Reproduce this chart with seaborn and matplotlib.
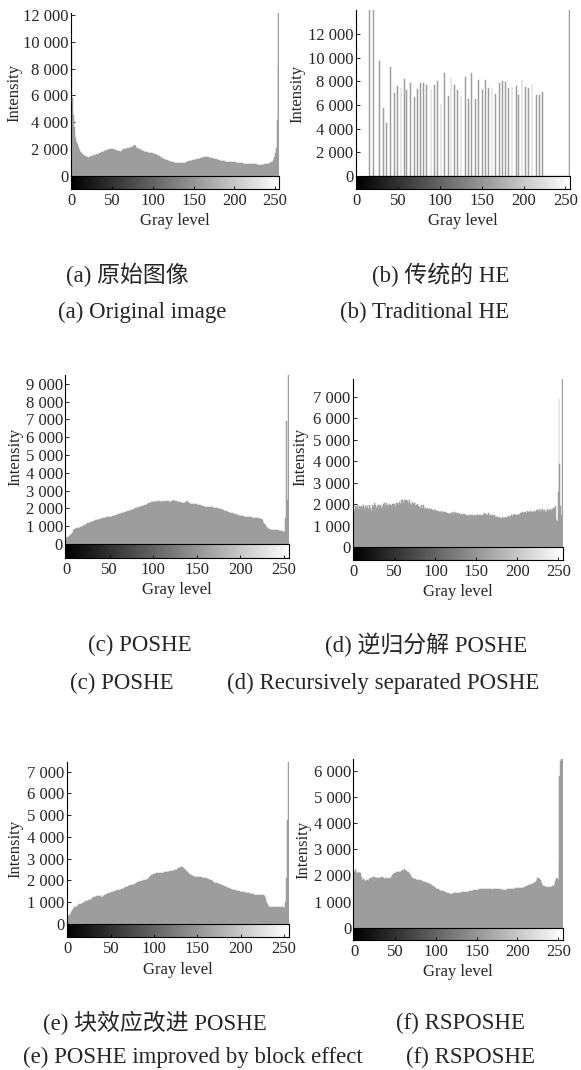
import numpy as np
import pandas as pd
import matplotlib
matplotlib.use("Agg")
import matplotlib.pyplot as plt
import seaborn as sns

sns.set_theme(style="white")
plt.rcParams["font.family"] = ["Liberation Serif", "Noto Sans CJK SC", "DejaVu Sans"]

# ---------------- data ----------------
gray_levels = list(range(256))

hist_original = [
    9700, 5800, 4500, 3600, 3100, 2800, 2550, 2350, 2150, 2000, 1900, 1800, 1700, 1650, 1600, 1550,
    1500, 1450, 1400, 1380, 1400, 1350, 1400, 1450, 1420, 1500, 1480, 1520, 1500, 1550, 1560, 1600,
    1580, 1650, 1680, 1700, 1720, 1750, 1780, 1800, 1820, 1850, 1880, 1900, 1920, 1950, 1980, 2000,
    2000, 2020, 2000, 1980, 1960, 1940, 1920, 1900, 1880, 1860, 1840, 1820, 1800, 1850, 1900, 1920,
    1960, 2000, 2000, 2020, 2040, 2050, 2050, 2080, 2100, 2120, 2150, 2150, 2200, 2280, 2300, 2250,
    2080, 2050, 2000, 1980, 1950, 1920, 1900, 1880, 1850, 1820, 1800, 1790, 1760, 1740, 1720, 1700,
    1690, 1680, 1670, 1660, 1650, 1640, 1620, 1600, 1580, 1550, 1520, 1480, 1440, 1400, 1360, 1330,
    1300, 1260, 1230, 1200, 1180, 1160, 1140, 1120, 1100, 1080, 1060, 1040, 1020, 1000, 990, 980,
    960, 940, 920, 920, 910, 920, 920, 920, 930, 940, 950, 960, 970, 1000, 1030, 1060,
    1080, 1100, 1110, 1130, 1140, 1160, 1170, 1180, 1200, 1210, 1230, 1240, 1260, 1280, 1300, 1320,
    1340, 1350, 1370, 1380, 1400, 1400, 1390, 1380, 1360, 1350, 1340, 1320, 1300, 1290, 1280, 1270,
    1250, 1230, 1210, 1190, 1170, 1160, 1140, 1130, 1110, 1100, 1090, 1080, 1070, 1060, 1050, 1050,
    1050, 1050, 1050, 1050, 1040, 1030, 1020, 1010, 1000, 990, 990, 980, 980, 970, 960, 950,
    940, 930, 920, 910, 900, 890, 880, 870, 870, 860, 860, 850, 850, 850, 850, 850,
    850, 850, 840, 840, 830, 830, 820, 820, 820, 820, 820, 820, 830, 840, 850, 860,
    870, 890, 910, 930, 950, 970, 1000, 1050, 1200, 1300, 1400, 1700, 2050, 4150, 8100, 12500,
]

he_levels = [15, 20, 27, 32, 36, 40, 45, 49, 53, 57, 60, 64, 69, 73, 76, 80, 84, 89, 93, 97,
             101, 105, 110, 113, 117, 121, 125, 130, 134, 138, 142, 146, 151, 154, 158, 162,
             166, 171, 175, 178, 182, 186, 191, 194, 198, 202, 206, 210, 215, 219, 223, 255]
he_counts = [22000, 22000, 9700, 5700, 4500, 9200, 7050, 7600, 7400, 8200, 7300, 7850, 6700,
             7350, 7850, 7850, 7700, 7350, 7650, 8000, 6100, 8700, 6800, 8280, 7700, 7300, 6800,
             8330, 6500, 8730, 6500, 8080, 7230, 8100, 7460, 7400, 6950, 7900, 8000, 7940, 7400,
             7490, 7570, 6840, 8080, 7490, 7400, 7770, 6840, 6840, 7060, 15000]

hist_poshe = [
    280, 320, 380, 410, 460, 500, 580, 640, 700, 780, 840, 860, 880, 890, 900, 920,
    940, 950, 970, 990, 1010, 1040, 1070, 1100, 1130, 1160, 1180, 1200, 1220, 1240, 1260, 1280,
    1300, 1310, 1330, 1350, 1360, 1370, 1380, 1390, 1400, 1420, 1440, 1450, 1470, 1480, 1490, 1500,
    1510, 1520, 1520, 1530, 1540, 1550, 1560, 1580, 1600, 1620, 1640, 1650, 1670, 1690, 1710, 1730,
    1740, 1760, 1770, 1790, 1800, 1810, 1820, 1840, 1860, 1880, 1890, 1910, 1930, 1950, 1970, 1990,
    2000, 2020, 2040, 2060, 2080, 2100, 2110, 2130, 2150, 2160, 2180, 2200, 2220, 2240, 2260, 2290,
    2300, 2320, 2340, 2360, 2380, 2400, 2380, 2360, 2390, 2380, 2420, 2400, 2360, 2390, 2380, 2400,
    2420, 2380, 2440, 2440, 2400, 2420, 2390, 2370, 2380, 2410, 2430, 2460, 2440, 2440, 2420, 2400,
    2380, 2370, 2380, 2340, 2320, 2300, 2290, 2290, 2320, 2350, 2380, 2400, 2380, 2330, 2280, 2260,
    2250, 2250, 2240, 2230, 2230, 2230, 2230, 2220, 2200, 2180, 2170, 2160, 2140, 2120, 2110, 2100,
    2100, 2100, 2100, 2100, 2100, 2100, 2090, 2070, 2060, 2050, 2040, 2030, 2020, 2010, 2000, 1990,
    1980, 1960, 1950, 1930, 1910, 1890, 1870, 1860, 1840, 1820, 1800, 1780, 1770, 1750, 1730, 1720,
    1700, 1690, 1680, 1670, 1650, 1630, 1620, 1600, 1590, 1580, 1570, 1560, 1550, 1540, 1530, 1520,
    1510, 1500, 1500, 1500, 1490, 1490, 1480, 1480, 1470, 1460, 1450, 1450, 1440, 1440, 1430, 1420,
    1380, 1350, 1300, 1200, 1100, 1050, 980, 900, 850, 820, 800, 790, 790, 790, 790, 790,
    790, 780, 780, 770, 760, 750, 740, 730, 720, 710, 700, 700, 1450, 6900, 2450, 9700,
]

hist_recursive = [
    2120, 1730, 1900, 1850, 1950, 1970, 1800, 1900, 1880, 1750, 1920, 1860, 1950, 1800, 1900, 1970,
    1850, 1900, 1780, 1950, 1890, 1820, 1700, 1950, 1880, 2040, 1900, 1960, 1820, 1900, 1970, 2000,
    1880, 1950, 1850, 1920, 1990, 1800, 2050, 1900, 2040, 1950, 1880, 1920, 2000, 1970, 1900, 2020,
    1940, 2010, 2010, 1880, 2050, 2000, 2040, 1950, 2100, 2000, 2200, 2150, 2200, 2050, 2180, 2200,
    2100, 2200, 2150, 2050, 2180, 2000, 2040, 1950, 2100, 2000, 2080, 2120, 1900, 1980, 2000, 1900,
    1890, 1920, 1800, 1950, 1850, 1970, 1880, 1800, 1850, 1780, 1810, 1750, 1820, 1760, 1780, 1760,
    1720, 1750, 1700, 1740, 1730, 1680, 1700, 1650, 1690, 1660, 1620, 1680, 1660, 1600, 1660, 1620,
    1640, 1580, 1610, 1610, 1570, 1600, 1560, 1590, 1580, 1620, 1560, 1640, 1600, 1660, 1580, 1550,
    1600, 1540, 1580, 1520, 1550, 1500, 1530, 1530, 1480, 1520, 1500, 1470, 1500, 1510, 1460, 1500,
    1480, 1500, 1460, 1520, 1500, 1450, 1500, 1480, 1530, 1470, 1500, 1500, 1450, 1520, 1560, 1500,
    1580, 1540, 1500, 1560, 1520, 1580, 1480, 1520, 1460, 1500, 1500, 1450, 1480, 1420, 1460, 1420,
    1400, 1380, 1420, 1350, 1350, 1330, 1400, 1360, 1380, 1420, 1390, 1350, 1420, 1450, 1420, 1380,
    1450, 1500, 1460, 1500, 1480, 1550, 1500, 1520, 1500, 1560, 1540, 1500, 1580, 1580, 1620, 1560,
    1600, 1640, 1660, 1600, 1680, 1620, 1660, 1660, 1700, 1620, 1680, 1650, 1660, 1700, 1640, 1720,
    1680, 1730, 1700, 1760, 1650, 1730, 1730, 1800, 1680, 1750, 1660, 1720, 1640, 1780, 1700, 1750,
    1730, 1800, 1700, 1780, 1820, 1810, 1750, 1920, 1270, 1200, 2550, 6900, 3850, 1900, 1500, 7900,
]

hist_block = [
    340, 380, 410, 480, 550, 610, 660, 710, 770, 790, 800, 830, 860, 880, 900, 920,
    940, 960, 980, 1000, 1030, 1040, 1060, 1080, 1090, 1100, 1120, 1150, 1180, 1200, 1230, 1250,
    1260, 1270, 1280, 1290, 1290, 1280, 1270, 1260, 1260, 1280, 1300, 1330, 1350, 1380, 1400, 1410,
    1420, 1430, 1440, 1460, 1480, 1490, 1500, 1520, 1530, 1540, 1550, 1560, 1560, 1580, 1600, 1620,
    1630, 1640, 1660, 1680, 1700, 1720, 1750, 1760, 1770, 1780, 1790, 1790, 1800, 1830, 1860, 1880,
    1900, 1920, 1930, 1940, 1960, 1970, 1980, 1990, 2000, 2010, 2020, 2040, 2060, 2090, 2120, 2170,
    2200, 2230, 2260, 2280, 2300, 2320, 2340, 2350, 2360, 2360, 2350, 2340, 2340, 2330, 2330, 2350,
    2370, 2380, 2390, 2400, 2400, 2410, 2420, 2420, 2430, 2440, 2450, 2460, 2470, 2480, 2500, 2530,
    2560, 2580, 2600, 2610, 2620, 2630, 2580, 2510, 2460, 2420, 2390, 2360, 2330, 2300, 2270, 2240,
    2220, 2200, 2190, 2180, 2170, 2170, 2170, 2160, 2150, 2150, 2140, 2140, 2130, 2120, 2110, 2100,
    2100, 2090, 2070, 2050, 2040, 2020, 2000, 1980, 1950, 1930, 1900, 1890, 1880, 1870, 1860, 1840,
    1830, 1810, 1790, 1770, 1750, 1740, 1720, 1700, 1690, 1670, 1650, 1640, 1620, 1610, 1590, 1580,
    1570, 1560, 1540, 1530, 1520, 1510, 1500, 1500, 1490, 1480, 1470, 1460, 1450, 1440, 1430, 1420,
    1420, 1410, 1410, 1400, 1390, 1380, 1370, 1360, 1350, 1340, 1340, 1330, 1330, 1330, 1330, 1330,
    1330, 1330, 1320, 1310, 1290, 1200, 1000, 900, 820, 800, 800, 800, 790, 780, 780, 770,
    770, 770, 770, 770, 770, 770, 780, 790, 800, 780, 720, 750, 1000, 2100, 4800, 7500,
]

hist_rsposhe = [
    2150, 2200, 2300, 2080, 2100, 2150, 2100, 2050, 2080, 1950, 1830, 1850, 1820, 1840, 1800, 1830,
    1820, 1800, 1850, 1880, 1890, 1900, 1920, 1950, 1930, 1930, 1900, 1920, 1900, 1880, 1890, 1900,
    1920, 1930, 1900, 1930, 1890, 1880, 1900, 1890, 1890, 1880, 1900, 1880, 1900, 1890, 1950, 2000,
    2050, 2080, 2080, 2100, 2120, 2150, 2130, 2150, 2100, 2150, 2180, 2200, 2180, 2220, 2240, 2200,
    2180, 2150, 2120, 2080, 2050, 2000, 1950, 1920, 1900, 1880, 1860, 1850, 1840, 1840, 1830, 1830,
    1830, 1810, 1800, 1780, 1770, 1760, 1760, 1750, 1740, 1730, 1720, 1700, 1680, 1670, 1650, 1630,
    1600, 1580, 1560, 1530, 1510, 1500, 1480, 1470, 1450, 1440, 1420, 1410, 1400, 1390, 1380, 1370,
    1350, 1340, 1330, 1320, 1310, 1300, 1290, 1290, 1290, 1300, 1310, 1320, 1320, 1330, 1330, 1340,
    1340, 1340, 1340, 1350, 1350, 1350, 1350, 1350, 1360, 1370, 1380, 1380, 1380, 1390, 1400, 1410,
    1420, 1420, 1430, 1430, 1440, 1440, 1440, 1450, 1460, 1460, 1470, 1470, 1470, 1470, 1470, 1470,
    1470, 1480, 1470, 1470, 1460, 1470, 1480, 1470, 1470, 1460, 1470, 1470, 1480, 1470, 1470, 1460,
    1470, 1480, 1470, 1460, 1470, 1460, 1450, 1440, 1440, 1440, 1450, 1460, 1470, 1470, 1470, 1480,
    1480, 1490, 1490, 1490, 1500, 1500, 1510, 1510, 1510, 1510, 1510, 1510, 1510, 1510, 1520, 1530,
    1550, 1560, 1570, 1590, 1600, 1610, 1630, 1640, 1650, 1660, 1670, 1690, 1700, 1730, 1760, 1790,
    1830, 1890, 1920, 1880, 1830, 1760, 1700, 1650, 1600, 1580, 1560, 1550, 1550, 1550, 1550, 1550,
    1550, 1560, 1570, 1580, 1600, 1620, 1700, 1800, 1890, 1850, 1830, 2650, 5800, 6400, 6500, 6700,
]

gray_ticks = [0, 50, 100, 150, 200, 250]
yticks_a = [0, 2000, 4000, 6000, 8000, 10000, 12000]
yticks_b = [0, 2000, 4000, 6000, 8000, 10000, 12000]
yticks_c = [0, 1000, 2000, 3000, 4000, 5000, 6000, 7000, 8000, 9000]
yticks_d = [0, 1000, 2000, 3000, 4000, 5000, 6000, 7000]
yticks_e = [0, 1000, 2000, 3000, 4000, 5000, 6000, 7000]
yticks_f = [0, 1000, 2000, 3000, 4000, 5000, 6000]

captions = [
    ("(a) 原始图像", 66, 275), ("(b) 传统的 HE", 372, 275),
    ("(a) Original image", 58, 312), ("(b) Traditional HE", 340, 312),
    ("(c) POSHE", 88, 645), ("(d) 逆归分解 POSHE", 325, 645),
    ("(c) POSHE", 70, 683), ("(d) Recursively separated POSHE", 227, 683),
    ("(e) 块效应改进 POSHE", 43, 1023), ("(f) RSPOSHE", 396, 1023),
    ("(e) POSHE improved by block effect", 23, 1057), ("(f) RSPOSHE", 406, 1057),
]

# ---------------- layout (pixels) ----------------
W, H = 581, 1070
fig = plt.figure(figsize=(W / 100, H / 100), dpi=100)
fig.patch.set_facecolor("white")

panels = [
    # x, weights, yticks, ymax, (left, top, right, zero, cb_bottom), (ylabel_x, ylabel_y)
    (gray_levels, hist_original, yticks_a, 12150, (70.7, 13, 279.3, 175.7, 189), (14, 93)),
    (he_levels, he_counts, yticks_b, 14050, (355.7, 10, 570, 175.7, 189), (297, 94)),
    (gray_levels, hist_poshe, yticks_c, 9500, (65, 375, 288.7, 544, 557.7), (15, 457)),
    (gray_levels, hist_recursive, yticks_d, 7810, (352.7, 379.3, 562.7, 547.3, 560), (300, 457)),
    (gray_levels, hist_block, yticks_e, 7460, (66.7, 761.7, 288.7, 924, 937.3), (15, 849)),
    (gray_levels, hist_rsposhe, yticks_f, 6450, (353.3, 759.3, 562.7, 927.7, 940), (303, 850)),
]

tick_fs = 12
label_fs = 12
bar_color = "#9d9d9d"
gradient = np.linspace(0, 1, 256)[None, :]


def px_axes(left, top, right, bottom):
    return fig.add_axes([left / W, 1 - bottom / H, (right - left) / W, (bottom - top) / H])


for xs, ws, yt, ymax, (l, t, r, z, cb), (ylx, yly) in panels:
    ax = px_axes(l, t, r, z)
    df = pd.DataFrame({"level": xs, "count": ws})
    sns.histplot(data=df, x="level", weights="count", discrete=True, ax=ax,
                 color=bar_color, alpha=1.0, linewidth=0.35, edgecolor=bar_color)
    ax.set_xlim(-1.2, 255.5)
    ax.set_ylim(0, ymax)
    ax.set_facecolor("white")
    ax.set_yticks(yt)
    ax.set_yticklabels([f"{v:,}".replace(",", " ") for v in yt], fontsize=tick_fs)
    ax.set_xticks(gray_ticks)
    ax.tick_params(axis="x", direction="in", length=3, labelbottom=False, color="black", width=0.6)
    ax.tick_params(axis="y", direction="in", length=3, pad=1.5, color="black", width=0.6, left=True)
    ax.set_xlabel("")
    ax.set_ylabel("")
    for s in ["top", "right", "bottom"]:
        ax.spines[s].set_visible(False)
    ax.spines["left"].set_color("black")
    ax.spines["left"].set_linewidth(0.8)

    cax = px_axes(l, z, r, cb)
    cax.imshow(gradient, cmap="gray", aspect="auto", extent=[-0.5, 255.5, 0, 1])
    cax.set_xlim(-1.2, 255.5)
    cax.set_yticks([])
    cax.set_xticks(gray_ticks)
    cax.set_xticklabels([str(v) for v in gray_ticks], fontsize=tick_fs)
    cax.tick_params(axis="x", direction="in", length=2, pad=3, color="black", width=0.6, bottom=True)
    for s in cax.spines.values():
        s.set_color("black")
        s.set_linewidth(0.8)
    cax.set_xlabel("Gray level", fontsize=label_fs, labelpad=3)

    fig.text(ylx / W, 1 - yly / H, "Intensity", rotation=90, ha="center", va="center",
             fontsize=label_fs)

for txt, x, y in captions:
    fig.text(x / W, 1 - y / H, txt, ha="left", va="center", fontsize=16.5,
             family=["Liberation Serif", "Noto Sans CJK SC", "DejaVu Sans"])

fig.savefig("out.png", dpi=100, facecolor="white")
